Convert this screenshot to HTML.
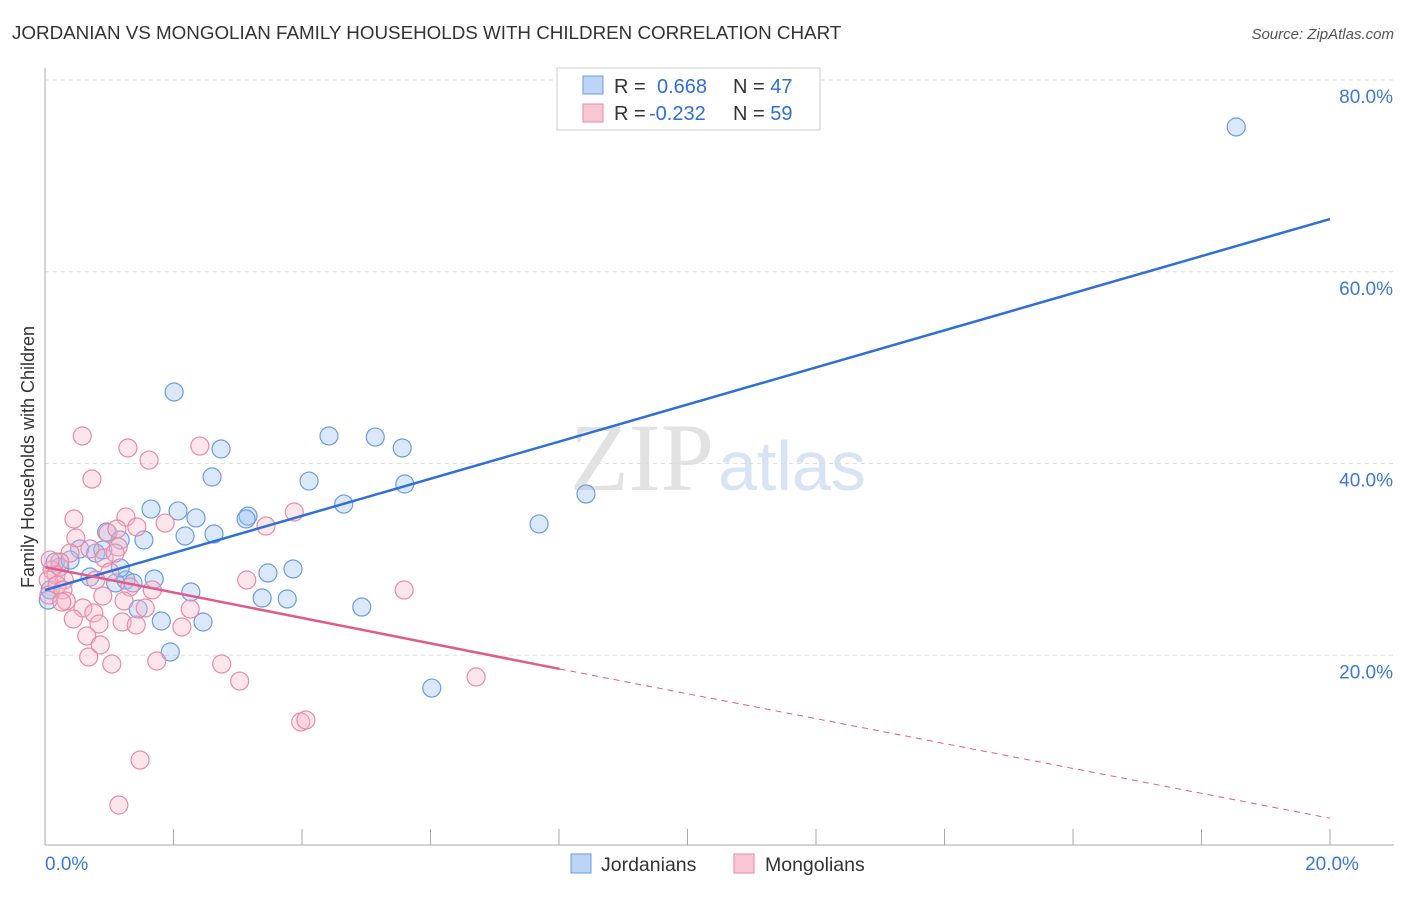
<!DOCTYPE html>
<html><head><meta charset="utf-8"><style>
body{margin:0;background:#fff;font-family:"Liberation Sans",sans-serif;}
svg text{font-family:"Liberation Sans",sans-serif;}
</style></head><body>
<svg id="c" width="1406" height="892" xmlns="http://www.w3.org/2000/svg">
<text x="12" y="39" font-size="18.8" fill="#333">JORDANIAN VS MONGOLIAN FAMILY HOUSEHOLDS WITH CHILDREN CORRELATION CHART</text>
<text x="1394" y="39" font-size="15" fill="#555" text-anchor="end" font-style="italic">Source: ZipAtlas.com</text>
<text x="714" y="490" font-size="96" fill="#e2e2e2" text-anchor="end" style="font-family:'Liberation Serif',serif">ZIP</text>
<text x="718" y="490" font-size="70" fill="#d8e4f5">atlas</text>
<text transform="translate(34,457) rotate(-90)" font-size="18" fill="#333" text-anchor="middle">Family Households with Children</text>
<g id="grid"></g><g id="axes"></g><g id="pts"></g><g id="trend"></g>
<g>
<rect x="557" y="68" width="263" height="62" fill="#fff" stroke="#ccc"/>
<rect x="583" y="76" width="20" height="18" fill="#bcd4f5" stroke="#6a9de0"/>
<rect x="583" y="104" width="20" height="18" fill="#f9c6d4" stroke="#e88aa6"/>
<text x="614" y="93" font-size="20" fill="#333">R = <tspan fill="#2f6fd6" x="657">0.668</tspan><tspan x="733">N = </tspan><tspan fill="#2f6fd6">47</tspan></text>
<text x="614" y="120" font-size="20" fill="#333">R = <tspan fill="#2f6fd6" x="649">-0.232</tspan><tspan x="733">N = </tspan><tspan fill="#2f6fd6">59</tspan></text>
</g>
<g>
<rect x="571" y="854" width="20" height="19" fill="#bcd4f5" stroke="#6a9de0"/>
<text x="601" y="871" font-size="19.5" fill="#333">Jordanians</text>
<rect x="734" y="854" width="20" height="19" fill="#f9c6d4" stroke="#e88aa6"/>
<text x="765" y="871" font-size="19.5" fill="#333">Mongolians</text>
</g>
</svg>
<script>
const yTicks=[20,40,60,80];
const xTickLabels=["0.0%","20.0%"];
const blueX=[2.01,2.74,2.60,1.65,2.07,2.35,1.54,2.18,2.63,0.96,0.54,0.79,0.90,1.17,3.16,3.13,4.11,4.42,5.14,5.56,5.60,4.65,8.42,7.69,3.86,3.47,3.38,3.77,4.93,1.70,1.26,1.37,0.70,1.10,2.27,1.45,1.81,2.46,1.95,6.02,18.54,0.16,0.23,0.08,0.05,0.39,1.17];
const blueY=[47.46,41.51,38.59,35.25,35.05,34.32,32.02,32.44,32.65,32.86,31.08,30.66,30.98,32.02,34.52,34.21,38.17,42.87,42.76,41.62,37.86,35.77,36.82,33.69,29.00,28.58,25.97,25.87,25.03,27.95,27.85,27.54,28.16,27.54,26.60,24.82,23.57,23.47,20.34,16.58,75.10,29.73,29.20,26.81,25.76,29.93,29.10];
const pinkX=[0.58,1.29,1.62,2.41,0.73,3.88,3.44,0.45,1.26,1.87,1.43,0.48,0.98,0.70,1.14,0.39,0.92,1.09,0.23,0.11,0.17,0.30,0.05,0.06,0.19,0.28,0.33,1.01,0.79,1.32,1.67,1.23,0.90,0.59,0.76,0.44,0.84,1.20,1.42,2.13,2.26,1.56,0.65,0.86,0.68,1.04,1.74,2.75,3.03,3.14,1.12,5.59,6.71,3.98,4.06,1.48,1.15,0.26,0.08];
const pinkY=[42.87,41.62,40.36,41.82,38.38,34.94,33.48,34.21,34.42,33.79,33.38,32.23,32.75,31.08,31.29,30.66,30.14,30.66,29.73,28.89,28.37,27.85,27.85,26.28,27.33,26.81,25.66,28.68,27.85,27.12,26.81,25.66,26.18,24.93,24.41,23.78,23.26,23.47,23.15,22.95,24.82,24.93,22.01,21.07,19.82,19.09,19.40,19.09,17.31,27.85,33.17,26.81,17.73,13.04,13.25,9.07,4.38,25.55,29.93];
const blueTrend=[26.8,65.5];
const pinkTrend=[29.2,18.57,3.0];
const NS="http://www.w3.org/2000/svg";
const X=v=>45+v/20*1285, Y=v=>847-v/20*191.75;
function mk(t,a,p){const e=document.createElementNS(NS,t);for(const k in a)e.setAttribute(k,a[k]);document.getElementById(p).appendChild(e);return e;}
yTicks.forEach(t=>{
 const l=mk('line',{x1:45,x2:1394,y1:Y(t),y2:Y(t),stroke:'#ddd','stroke-dasharray':'4,4'},'grid');
 
 
 const tx=mk('text',{x:1393,y:Y(t)+23,'font-size':19,fill:'#3c78d8','text-anchor':'end'},'grid');
 tx.textContent=t.toFixed(1)+'%';
 
 
});
let ax=mk('line',{x1:45,x2:45,y1:68,y2:845,stroke:'#aaa'},'axes');


ax=mk('line',{x1:45,x2:1394,y1:845,y2:845,stroke:'#aaa'},'axes');


for(let i=0;i<=20;i+=2){const t=mk('line',{x1:X(i),x2:X(i),y1:829,y2:845,stroke:'#aaa'},'axes');
 
 }
[[0,'start',45],[20,'middle',X(20)+2]].forEach((d,i)=>{const t=mk('text',{x:d[2],y:870,'font-size':19,fill:'#3c78d8','text-anchor':d[1]},'axes');t.textContent=xTickLabels[i];
 
 });
blueX.forEach((v,i)=>{const c=mk('circle',{cx:X(v),cy:Y(blueY[i]),r:9,fill:'rgba(150,190,240,0.35)',stroke:'#6a9de0','stroke-width':1.2},'pts');
 
 });
pinkX.forEach((v,i)=>{const c=mk('circle',{cx:X(v),cy:Y(pinkY[i]),r:9,fill:'rgba(248,180,200,0.35)',stroke:'#e88aa6','stroke-width':1.2},'pts');
 
 });
let l=mk('line',{x1:X(0),y1:Y(blueTrend[0]),x2:X(20),y2:Y(blueTrend[1]),stroke:'#2f6fd6','stroke-width':2.5},'trend');


l=mk('line',{x1:X(0),y1:Y(pinkTrend[0]),x2:X(8.01),y2:Y(pinkTrend[1]),stroke:'#e05a8a','stroke-width':2.5},'trend');


l=mk('line',{x1:X(8.01),y1:Y(pinkTrend[1]),x2:X(20),y2:Y(pinkTrend[2]),stroke:'#e05a8a','stroke-width':1,'stroke-dasharray':'6,5'},'trend');


</script>
</body></html>
